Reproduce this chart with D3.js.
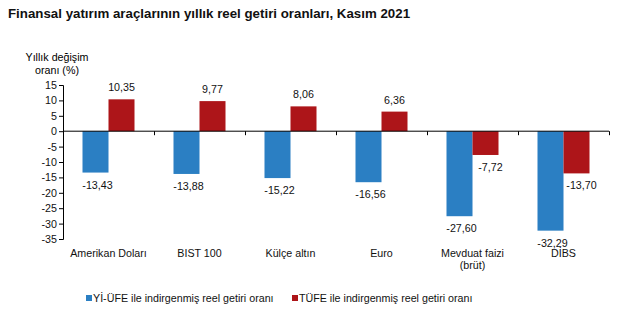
<!DOCTYPE html>
<html><head><meta charset="utf-8">
<script src="https://cdn.jsdelivr.net/npm/d3@7"></script>
<style>body{margin:0;background:#fff}svg{display:block;font-family:"Liberation Sans",Arial,sans-serif}</style>
</head><body>
<svg id="c" width="633" height="327"></svg>
<script>
const categories = [["Amerikan Doları"],["BIST 100"],["Külçe altın"],["Euro"],["Mevduat faizi","(brüt)"],["DİBS"]];
const yiUfe = [-13.43,-13.88,-15.22,-16.56,-27.60,-32.29];
const tufe = [10.35,9.77,8.06,6.36,-7.72,-13.70];
const seriesNames = ["Yİ-ÜFE ile indirgenmiş reel getiri oranı","TÜFE ile indirgenmiş reel getiri oranı"];
const yTicks = [15,10,5,0,-5,-10,-15,-20,-25,-30,-35];
const colors = ["#2b7fc3","#ad1519"];

(function(){
const svg = d3.select("#c");
const pL = 63, pR = 609, pT = 85, pB = 239;
const x = d3.scaleBand().domain(d3.range(categories.length)).range([pL,pR]);
const y = d3.scaleLinear().domain([-35,15]).range([pB,pT]);
const bw = 26;
const fs = 10.7;
const fmt = v => v.toFixed(2).replace(".",",");

svg.append("text").attr("x",8).attr("y",18).attr("font-size",13.3).attr("font-weight","bold")
  .attr("fill","#111").text("Finansal yatırım araçlarının yıllık reel getiri oranları, Kasım 2021");

svg.append("text").attr("x",57).attr("y",61).attr("text-anchor","middle").attr("font-size",fs).text("Yıllık değişim");
svg.append("text").attr("x",57).attr("y",74).attr("text-anchor","middle").attr("font-size",fs).text("oranı (%)");

const series = [yiUfe, tufe];
series.forEach((vals,si)=>{
  svg.append("g").selectAll("rect").data(vals).join("rect")
    .attr("x",(d,i)=>x(i)+x.bandwidth()/2 - bw + si*bw)
    .attr("width",bw)
    .attr("y",d=>y(Math.max(0,d)))
    .attr("height",d=>Math.abs(y(d)-y(0)))
    .attr("fill",colors[si]);
  svg.append("g").selectAll("text").data(vals).join("text")
    .attr("x",(d,i)=>x(i)+x.bandwidth()/2 - bw/2 + si*bw + (d<0 ? (si ? 5 : 2) : 0))
    .attr("y",d=> d>=0 ? y(d)-8 : y(d)+16)
    .attr("text-anchor","middle").attr("font-size",fs).attr("fill","#111")
    .text(fmt);
});

const ya = d3.axisLeft(y).tickValues(yTicks).tickSize(4).tickFormat(d=>d);
const yg = svg.append("g").attr("transform",`translate(${pL},0)`).call(ya);
yg.select(".domain").attr("stroke","#000");
yg.selectAll("line").attr("stroke","#000");
yg.selectAll("text").attr("font-size",fs).attr("fill","#111").attr("font-family","Liberation Sans, Arial, sans-serif").attr("x",-6);

const xa = d3.axisBottom(d3.scaleLinear().domain([0,categories.length]).range([pL,pR]))
  .tickValues(d3.range(1,categories.length+1)).tickSize(4).tickFormat("");
const xg = svg.append("g").attr("transform",`translate(0,${y(0)})`).call(xa);
xg.select(".domain").attr("stroke","#000").attr("d",`M${pL},0H${pR}`);
xg.selectAll("line").attr("stroke","#000");

categories.forEach((lines,i)=>{
  const cx = x(i)+x.bandwidth()/2;
  const t = svg.append("text").attr("x",cx).attr("y",257).attr("text-anchor","middle").attr("font-size",fs).attr("fill","#111");
  lines.forEach((l,j)=>t.append("tspan").attr("x",cx).attr("dy",j?12:0).text(l));
});

const lx = [86,292];
seriesNames.forEach((n,i)=>{
  svg.append("rect").attr("x",lx[i]).attr("y",295).attr("width",6).attr("height",6).attr("fill",colors[i]);
  svg.append("text").attr("x",lx[i]+7).attr("y",302).attr("font-size",fs).attr("fill","#111").text(n);
});
})();
</script>
</body></html>
